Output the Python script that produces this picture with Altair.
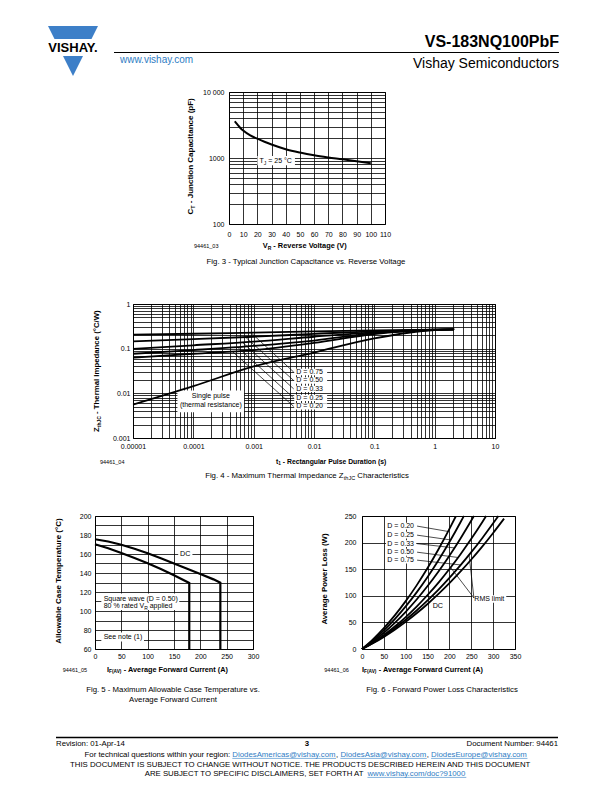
import altair as alt
import pandas as pd

FONT = "Liberation Sans"
LOGO_BLUE = "#3d7fc8"
LINK_BLUE = "#2e7cc4"

# ---------------- Fig. 3 data: typical junction capacitance ----------------
f3_vr = [4, 6, 8, 10, 15, 20, 25, 30, 40, 50, 60, 70, 80, 90, 100]
f3_ct = [3600, 3200, 2850, 2600, 2200, 1960, 1760, 1600, 1360, 1210, 1100, 1020, 955, 890, 830]
f3_x_ticks = [0, 10, 20, 30, 40, 50, 60, 70, 80, 90, 100, 110]
f3_y_labels = {100: "100", 1000: "1000", 10000: "10 000"}

# ---------------- Fig. 4 data: thermal impedance ----------------
f4_t = [1e-5, 1e-4, 1e-3, 1e-2, 1e-1, 1, 2.1]
f4_names = ["Single pulse", "D = 0.75", "D = 0.50", "D = 0.33", "D = 0.25", "D = 0.20"]
f4_single = [0.0056, 0.0145, 0.040, 0.082, 0.17, 0.262, 0.27]
f4_d075 = [0.207, 0.216, 0.229, 0.243, 0.257, 0.267, 0.27]
f4_d050 = [0.145, 0.163, 0.185, 0.215, 0.245, 0.266, 0.27]
f4_d033 = [0.099, 0.119, 0.144, 0.185, 0.232, 0.265, 0.27]
f4_d025 = [0.077, 0.093, 0.115, 0.152, 0.222, 0.264, 0.27]
f4_d020 = [0.063, 0.077, 0.093, 0.135, 0.213, 0.263, 0.27]
f4_labels = ["D = 0.75", "D = 0.50", "D = 0.33", "D = 0.25", "D = 0.20"]
f4_label_z = [0.030, 0.0194, 0.0126, 0.0079, 0.0051]
f4_lead_t = [0.0009, 0.00073, 0.00065, 0.00054, 0.00044]
f4_lead_z = [0.228, 0.182, 0.139, 0.108, 0.087]
f4_x_labels = {1e-05: "0.00001", 0.0001: "0.0001", 0.001: "0.001", 0.01: "0.01",
               0.1: "0.1", 1.0: "1", 10.0: "10"}
f4_y_labels = {0.001: "0.001", 0.01: "0.01", 0.1: "0.1", 1.0: "1"}

# ---------------- Fig. 5 data: allowable case temperature ----------------
f5_dc_i = [0, 25, 50, 75, 100, 125, 150, 175, 200, 225, 238, 238]
f5_dc_t = [175.5, 173.2, 169.8, 165.5, 160.8, 155.6, 150.0, 144.5, 139.0, 133.3, 129.8, 60]
f5_sq_i = [0, 25, 50, 75, 100, 125, 150, 179, 179]
f5_sq_t = [170.3, 166.0, 161.0, 155.8, 150.3, 144.2, 137.7, 129.5, 60]
f5_x_ticks = [0, 50, 100, 150, 200, 250, 300]
f5_y_grid = [60, 70, 80, 90, 100, 110, 120, 130, 140, 150, 160, 170, 180, 190, 200]

# ---------------- Fig. 6 data: forward power loss ----------------
f6_names = ["D = 0.20", "D = 0.25", "D = 0.33", "D = 0.50", "D = 0.75", "DC"]
f6_i = [
    [0, 25, 50, 75, 100, 125, 150, 175, 200, 215],
    [0, 25, 50, 75, 100, 125, 150, 175, 200, 225, 233],
    [0, 25, 50, 75, 100, 125, 150, 175, 200, 225, 250, 256],
    [0, 25, 50, 75, 100, 125, 150, 175, 200, 225, 250, 275, 284],
    [0, 25, 50, 75, 100, 125, 150, 175, 200, 225, 250, 275, 300, 312],
    [0, 25, 50, 75, 100, 125, 150, 175, 200, 225, 250, 275, 300, 325],
]
f6_p = [
    [0, 18.2, 39.3, 63.2, 90, 119.6, 152.1, 187.5, 225.7, 250],
    [0, 16.2, 34.9, 56.1, 80, 106.4, 135.4, 166.9, 201, 237.7, 250],
    [0, 14.2, 30.6, 49.2, 70, 93, 118.3, 145.8, 175.4, 207.4, 241.5, 250],
    [0, 12.2, 26.2, 42.2, 60, 79.8, 101.5, 124.9, 150.4, 177.8, 207.1, 238.3, 250],
    [0, 11.5, 24.6, 39.1, 55, 72.4, 91.4, 111.8, 133.7, 157.1, 182, 208.3, 236.2, 250],
    [0, 10.7, 22.8, 36.2, 51, 67.1, 84.6, 103.5, 123.7, 145.3, 168.2, 192.4, 218.1, 245],
]
f6_label_w = [231, 214, 198, 182, 167]
f6_lead_i = [196.5, 202.8, 211.6, 219.8, 225.9]
f6_lead_w = [221, 205, 190, 172, 158]
f6_x_ticks = [0, 50, 100, 150, 200, 250, 300, 350]
f6_y_ticks = [0, 50, 100, 150, 200, 250]

# ---------------- layout (page pixels) ----------------
ROW_STEP = 212
O3, W3, H3 = (228, 91), 156, 132
O4, W4, H4 = (132, 91 + ROW_STEP), 362, 134
O5, W5, H5 = (94, 91 + 2 * ROW_STEP), 158, 133
O6, W6, H6 = (361, 91 + 2 * ROW_STEP), 153, 133

# ---------------- text metrics (Arial / Liberation Sans) ----------------
_REG = {c: 556 for c in "0123456789"}
_REG.update({" ": 278, "!": 278, "%": 889, "(": 333, ")": 333, ",": 278, "-": 333, ".": 278,
             "/": 278, ":": 278, "=": 584, "?": 556, "@": 1015, "_": 556, "°": 400})
_REG.update(dict(zip("ABCDEFGHIJKLMNOPQRSTUVWXYZ",
                     [667, 667, 722, 722, 667, 611, 778, 722, 278, 500, 667, 556, 833, 722, 778, 667,
                      778, 722, 667, 611, 722, 667, 944, 667, 667, 611])))
_REG.update(dict(zip("abcdefghijklmnopqrstuvwxyz",
                     [556, 556, 500, 556, 556, 278, 556, 556, 222, 222, 500, 222, 833, 556, 556, 556,
                      556, 333, 500, 278, 556, 500, 722, 500, 500, 500])))
_BOLD = dict(_REG)
_BOLD.update({":": 333, "?": 611, "@": 975})
_BOLD.update(dict(zip("ABCDEFGHIJKLMNOPQRSTUVWXYZ",
                      [722, 722, 722, 722, 667, 611, 778, 722, 278, 556, 722, 611, 833, 722, 778, 667,
                       778, 722, 667, 611, 722, 667, 944, 667, 667, 611])))
_BOLD.update(dict(zip("abcdefghijklmnopqrstuvwxyz",
                      [556, 611, 556, 611, 556, 333, 611, 611, 278, 278, 556, 278, 889, 611, 611, 611,
                       611, 389, 556, 333, 611, 556, 778, 556, 556, 500])))


def wid(s, size, bold=False):
    t = _BOLD if bold else _REG
    return sum(t.get(ch, 556) for ch in s) * size / 1000.0


ONE = pd.DataFrame({"k": [0]})


def P(text, size=7.8, bold=False, dy=0.0, color="black", link=False):
    return dict(text=text, size=size, bold=bold, dy=dy, color=color, link=link)


def text_at(origin, x, y, text, size, bold=False, color="black", align="left", angle=0):
    ox, oy = origin
    props = dict(text=text, font=FONT, fontSize=size, fontWeight="bold" if bold else "normal",
                 color=color, align=align, baseline="middle")
    if angle:
        props["angle"] = angle
    return alt.Chart(ONE).mark_text(**props).encode(x=alt.value(x - ox), y=alt.value(y - oy))


def rule_at(origin, x1, y1, x2, y2, color="black", width=1.0):
    ox, oy = origin
    return alt.Chart(ONE).mark_rule(color=color, strokeWidth=width).encode(
        x=alt.value(x1 - ox), x2=alt.value(x2 - ox), y=alt.value(y1 - oy), y2=alt.value(y2 - oy))


def rect_at(origin, x1, y1, x2, y2, color="white"):
    ox, oy = origin
    return alt.Chart(ONE).mark_rect(color=color).encode(
        x=alt.value(x1 - ox), x2=alt.value(x2 - ox), y=alt.value(y1 - oy), y2=alt.value(y2 - oy))


def rich(origin, x, y, pieces, anchor="left", angle=0):
    total = sum(wid(p["text"], p["size"], p["bold"]) for p in pieces)
    out = []
    if angle == 0:
        cur = x if anchor == "left" else (x - total / 2 if anchor == "center" else x - total)
    else:
        cur = y if anchor == "left" else (y + total / 2 if anchor == "center" else y + total)
    for p in pieces:
        t = p["text"]
        w = wid(t, p["size"], p["bold"])
        lead = wid(" " * (len(t) - len(t.lstrip(" "))), p["size"], p["bold"])
        body = t.strip(" ")
        bw = wid(body, p["size"], p["bold"])
        if angle == 0:
            out.append(text_at(origin, cur + lead, y + p["dy"], body, p["size"], p["bold"], p["color"]))
            if p["link"]:
                uy = y + p["dy"] + p["size"] * 0.5
                out.append(rule_at(origin, cur + lead, uy, cur + lead + bw, uy, p["color"], 0.6))
            cur += w
        else:
            out.append(text_at(origin, x + p["dy"], cur - lead, body, p["size"], p["bold"],
                               p["color"], angle=270))
            cur -= w
    return out


def log_grid(e0, e1):
    vals = []
    for e in range(e0, e1):
        for m in range(1, 10):
            vals.append(float(f"{m}e{e}"))
    vals.append(float(f"1e{e1}"))
    return vals


def label_expr(mapping):
    expr = "''"
    for v, s in mapping.items():
        expr = f"datum.value == {v!r} ? '{s}' : (" + expr + ")"
    return expr


def make_axis(values, pad, expr=None, size=7):
    kw = dict(values=values, title=None, grid=True, gridColor="black", gridWidth=0.8, gridOpacity=1,
              ticks=False, tickSize=0, domain=False, labelFont=FONT, labelFontSize=size,
              labelColor="black", labelPadding=pad, labelFlush=False, labelOverlap=False)
    if expr:
        kw["labelExpr"] = expr
    return alt.Axis(**kw)


def X(field, F):
    return alt.X(f"{field}:Q", scale=F["xs"], axis=F["xa"])


def Y(field, F):
    return alt.Y(f"{field}:Q", scale=F["ys"], axis=F["ya"])


def data_boxes(F, x0, x1, y0, y1):
    df = pd.DataFrame({"a": x0, "b": x1, "c": y0, "d": y1})
    return alt.Chart(df).mark_rect(color="white").encode(x=X("a", F), x2="b", y=Y("c", F), y2="d")


def data_leaders(F, x0, y0, x1, y1, width=0.7):
    df = pd.DataFrame({"a": x0, "c": y0, "b": x1, "d": y1})
    return alt.Chart(df).mark_rule(color="black", strokeWidth=width).encode(
        x=X("a", F), y=Y("c", F), x2="b", y2="d")


def data_rich(F, x, y, pieces, anchor="left"):
    df = pd.DataFrame({"a": [x], "c": [y]})
    total = sum(wid(p["text"], p["size"], p["bold"]) for p in pieces)
    off = 0.0 if anchor == "left" else -total / 2
    out = []
    for p in pieces:
        t = p["text"]
        lead = wid(" " * (len(t) - len(t.lstrip(" "))), p["size"], p["bold"])
        out.append(alt.Chart(df).mark_text(
            text=t.strip(" "), font=FONT, fontSize=p["size"],
            fontWeight="bold" if p["bold"] else "normal", color="black", align="left",
            baseline="middle", dx=off + lead, dy=p["dy"]).encode(x=X("a", F), y=Y("c", F)))
        off += wid(t, p["size"], p["bold"])
    return out


FRAME = alt.ViewBackground(stroke="black", strokeWidth=1)

# =============================== Fig. 3 ===============================
F3 = dict(xs=alt.Scale(domain=[0, 110], nice=False, zero=False),
          ys=alt.Scale(type="log", domain=[100, 10000], nice=False),
          xa=make_axis(f3_x_ticks, 6),
          ya=make_axis(log_grid(2, 4), 5, label_expr(f3_y_labels)))
df3 = pd.DataFrame({"V": f3_vr, "C": f3_ct})
L3 = [
    data_boxes(F3, [20], [46.5], [775], [1072]),
    alt.Chart(df3).mark_line(color="black", strokeWidth=2, interpolate="monotone").encode(
        x=X("V", F3), y=Y("C", F3)),
]
L3 += data_rich(F3, 21.5, 905, [P("T", 7), P("J", 5, dy=2), P(" = 25 °C", 7)])
# page header
L3 += [
    rect_at(O3, 8, 8, 9, 9, "white"),
    alt.Chart(ONE).mark_point(shape="M-1,-1L1,-1L0,1Z", size=2500, filled=True, fill=LOGO_BLUE,
                              opacity=1, strokeOpacity=0).encode(
        x=alt.value(72 - O3[0]), y=alt.value(50 - O3[1])),
    rect_at(O3, 40, 38, 104, 55, "white"),
    text_at(O3, 72, 47, "VISHAY.", 13, bold=True, align="center"),
    text_at(O3, 119, 58.5, "www.vishay.com", 10, color=LINK_BLUE),
    rule_at(O3, 113, 51.5, 558, 51.5, width=1),
    text_at(O3, 558, 41, "VS-183NQ100PbF", 16, bold=True, align="right"),
    text_at(O3, 558, 63, "Vishay Semiconductors", 14, align="right"),
    text_at(O3, 193, 245, "94461_03", 5.5),
]
L3 += rich(O3, 261.7, 244.5, [P("V", 7.4, True), P("R", 5, True, dy=2),
                              P(" - Reverse Voltage (V)", 7.4, True)])
L3 += rich(O3, 190, 213.5, [P("C", 8, True), P("T", 5.5, True, dy=2),
                            P(" - Junction Capacitance (pF)", 8, True)], angle=270)
L3 += rich(O3, 305.5, 260.5, [P("Fig. 3 - Typical Junction Capacitance vs. Reverse Voltage", 7.8)],
           anchor="center")
fig3 = alt.layer(*L3).properties(width=W3, height=H3, view=FRAME)

# =============================== Fig. 4 ===============================
F4 = dict(xs=alt.Scale(type="log", domain=[1e-5, 10], nice=False),
          ys=alt.Scale(type="log", domain=[1e-3, 1], nice=False),
          xa=make_axis(log_grid(-5, 1), 4.5, label_expr(f4_x_labels)),
          ya=make_axis(log_grid(-3, 0), 3, label_expr(f4_y_labels)))
rows4 = []
for name, vals in zip(f4_names, [f4_single, f4_d075, f4_d050, f4_d033, f4_d025, f4_d020]):
    for t, z in zip(f4_t, vals):
        rows4.append({"t": t, "z": z, "s": name})
df4 = pd.DataFrame(rows4)
df4_lab = pd.DataFrame({"a": [0.0051] * 5, "c": f4_label_z, "txt": f4_labels})
L4 = [
    data_boxes(F4, [5.45e-5], [6.93e-4], [0.00375], [0.01156]),
    data_boxes(F4, [0.0047] * 5, [0.0165] * 5, [z / 1.18 for z in f4_label_z],
               [z * 1.18 for z in f4_label_z]),
    data_leaders(F4, f4_lead_t, f4_lead_z, [0.0046] * 5, f4_label_z),
    alt.Chart(df4).mark_line(color="black", strokeWidth=1.8, interpolate="monotone").encode(
        x=X("t", F4), y=Y("z", F4), detail="s:N"),
    alt.Chart(df4_lab).mark_text(font=FONT, fontSize=7, align="left", baseline="middle",
                                 color="black").encode(x=X("a", F4), y=Y("c", F4), text="txt:N"),
]
L4 += data_rich(F4, 1.95e-4, 0.0086, [P("Single pulse", 7)], anchor="center")
L4 += data_rich(F4, 1.95e-4, 0.0055, [P("(thermal resistance)", 7)], anchor="center")
L4 += rich(O4, 275, O4[1] + 158, [P("t", 6.8, True), P("1", 4.8, True, dy=2),
                                  P(" - Rectangular Pulse Duration (s)", 6.8, True)])
L4 += rich(O4, 95.5, O4[1] + 128, [P("Z", 7.8, True), P("thJC", 5, True, dy=2),
                                   P(" - Thermal Impedance (°C/W)", 7.8, True)], angle=270)
L4 += [text_at(O4, 99, O4[1] + 158, "94461_04", 5.5)]
L4 += rich(O4, 306, O4[1] + 171.5, [P("Fig. 4 - Maximum Thermal Impedance Z", 7.8),
                                    P("thJC", 5.5, dy=2), P(" Characteristics", 7.8)],
           anchor="center")
fig4 = alt.layer(*L4).properties(width=W4, height=H4, view=FRAME)

# =============================== Fig. 5 ===============================
F5 = dict(xs=alt.Scale(domain=[0, 300], nice=False, zero=False),
          ys=alt.Scale(domain=[60, 200], nice=False, zero=False),
          xa=make_axis(f5_x_ticks, 3),
          ya=make_axis(f5_y_grid, 4, "datum.value % 20 == 0 ? datum.label : ''"))
rows5 = []
for name, xs, ys in [("DC", f5_dc_i, f5_dc_t), ("Square wave", f5_sq_i, f5_sq_t)]:
    for k, (i, t) in enumerate(zip(xs, ys)):
        rows5.append({"i": i, "T": t, "s": name, "k": k})
df5 = pd.DataFrame(rows5)
L5 = [
    data_boxes(F5, [158, 12, 12], [185, 160, 93], [155.5, 101, 68], [164.5, 118.5, 77.5]),
    alt.Chart(df5).mark_line(color="black", strokeWidth=2.2).encode(
        x=X("i", F5), y=Y("T", F5), detail="s:N", order="k:Q"),
]
L5 += data_rich(F5, 171.5, 160, [P("DC", 7.2)], anchor="center")
L5 += data_rich(F5, 16.5, 112.3, [P("Square wave (D = 0.50)", 7)])
L5 += data_rich(F5, 16.5, 105.3, [P("80 % rated V", 7), P("R", 5, dy=2), P(" applied", 7)])
L5 += data_rich(F5, 16.5, 72.7, [P("See note (1)", 7)])
L5 += rich(O5, 106, 669.3, [P("I", 7.3, True), P("F(AV)", 4.8, True, dy=2),
                            P(" - Average Forward Current (A)", 7.3, True)])
L5 += [
    text_at(O5, 57.5, 580, "Allowable Case Temperature (°C)", 8, bold=True, align="center", angle=270),
    text_at(O5, 61.7, 669.3, "94461_05", 5.5),
    text_at(O5, 172, 688.5, "Fig. 5 - Maximum Allowable Case Temperature vs.", 7.8, align="center"),
    text_at(O5, 172, 698.5, "Average Forward Current", 7.8, align="center"),
]
# page footer
L5 += [
    rule_at(O5, 55, 736.5, 557, 736.5, width=1.3),
    text_at(O5, 55, 742.5, "Revision: 01-Apr-14", 7.8),
    text_at(O5, 306, 742.5, "3", 7.8, bold=True, align="center"),
    text_at(O5, 557, 742.5, "Document Number: 94461", 7.8, align="right"),
]
L5 += rich(O5, 305, 753.5, [P("For technical questions within your region: "),
                            P("DiodesAmericas@vishay.com", color=LINK_BLUE, link=True), P(", "),
                            P("DiodesAsia@vishay.com", color=LINK_BLUE, link=True), P(", "),
                            P("DiodesEurope@vishay.com", color=LINK_BLUE, link=True)],
           anchor="center")
L5 += rich(O5, 300, 763.5, [P("THIS DOCUMENT IS SUBJECT TO CHANGE WITHOUT NOTICE. THE PRODUCTS "
                              "DESCRIBED HEREIN AND THIS DOCUMENT")], anchor="center")
L5 += rich(O5, 304.5, 772.5, [P("ARE SUBJECT TO SPECIFIC DISCLAIMERS, SET FORTH AT "),
                              P("www.vishay.com/doc?91000", color=LINK_BLUE, link=True)],
           anchor="center")
fig5 = alt.layer(*L5).properties(width=W5, height=H5, view=FRAME)

# =============================== Fig. 6 ===============================
F6 = dict(xs=alt.Scale(domain=[0, 350], nice=False, zero=False),
          ys=alt.Scale(domain=[0, 250], nice=False, zero=False),
          xa=make_axis(f6_x_ticks, 3),
          ya=make_axis(f6_y_ticks, 6))
rows6 = []
for name, xs, ys in zip(f6_names, f6_i, f6_p):
    for i, p in zip(xs, ys):
        rows6.append({"i": i, "p": p, "s": name})
df6 = pd.DataFrame(rows6)
df6_lab = pd.DataFrame({"a": [58] * 5, "c": f6_label_w, "txt": f6_names[:5]})
L6 = [
    data_boxes(F6, [55] * 5 + [163, 252], [124] * 5 + [184, 330],
               [w - 6.5 for w in f6_label_w] + [74, 87], [w + 6.5 for w in f6_label_w] + [88, 101]),
    data_leaders(F6, [126] * 5 + [256, 256], f6_label_w + [96, 96],
                 f6_lead_i + [203, 245], f6_lead_w + [153, 176]),
    alt.Chart(df6).mark_line(color="black", strokeWidth=1.8, interpolate="monotone").encode(
        x=X("i", F6), y=Y("p", F6), detail="s:N"),
    alt.Chart(df6_lab).mark_text(font=FONT, fontSize=7, align="left", baseline="middle",
                                 color="black").encode(x=X("a", F6), y=Y("c", F6), text="txt:N"),
]
L6 += data_rich(F6, 173.5, 81, [P("DC", 7.2)], anchor="center")
L6 += data_rich(F6, 257, 94, [P("RMS limit", 7)])
L6 += rich(O6, 361, 669.3, [P("I", 7.3, True), P("F(AV)", 4.8, True, dy=2),
                            P(" - Average Forward Current (A)", 7.3, True)])
L6 += [
    text_at(O6, 323.5, 578, "Average Power Loss (W)", 7.8, bold=True, align="center", angle=270),
    text_at(O6, 323.3, 669.3, "94461_06", 5.5),
    text_at(O6, 441, 688.5, "Fig. 6 - Forward Power Loss Characteristics", 7.8, align="center"),
]
fig6 = alt.layer(*L6).properties(width=W6, height=H6, view=FRAME)


# =============================== page ===============================
def spacer(w):
    return alt.Chart(ONE).mark_point(opacity=0).encode(x=alt.value(0), y=alt.value(0)).properties(
        width=w, height=10, view=alt.ViewBackground(strokeOpacity=0))


# nested rows have no height of their own under "flush" bounds, so the vertical
# step between rows is carried entirely by the spacing
row3 = alt.hconcat(spacer(O3[0] - O5[0]), fig3, spacing=0, bounds="flush")
row4 = alt.hconcat(spacer(O4[0] - O5[0]), fig4, spacing=0, bounds="flush")
row5 = alt.hconcat(fig5, fig6, spacing=O6[0] - O5[0] - W5, bounds="flush")

chart = alt.vconcat(row3, row4, row5, spacing=ROW_STEP, bounds="flush",
                    padding=0).configure(font=FONT)

chart.save("out.html", embed_options={"renderer": "svg", "actions": False})
